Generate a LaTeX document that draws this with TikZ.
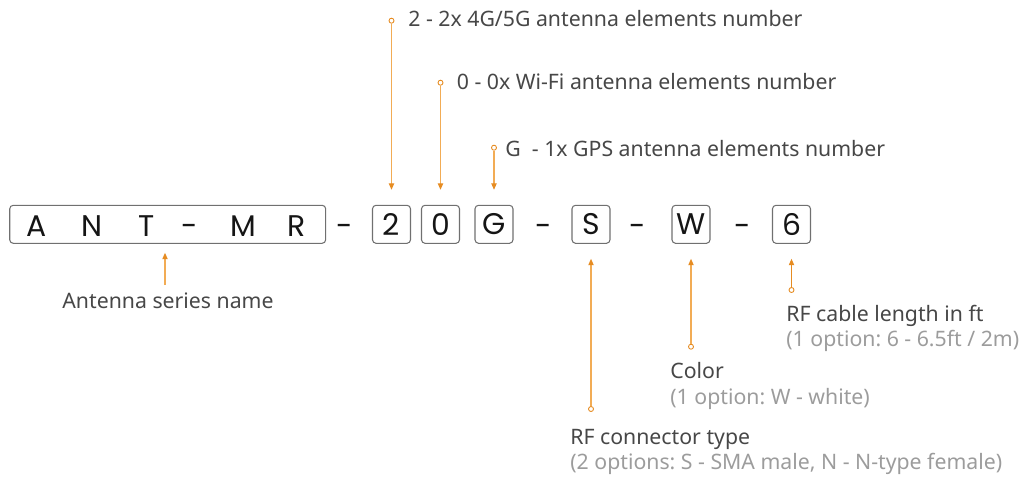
\documentclass[tikz,border=0pt]{standalone}
\usepackage{fontspec}
\setmainfont{Noto Sans}
\newfontfamily\codefont{Poppins}
\usetikzlibrary{arrows.meta}
\usetikzlibrary{positioning}
\frenchspacing
\definecolor{leadline}{HTML}{F2AC55}
\definecolor{leadtip}{HTML}{E68C22}
\definecolor{captext}{HTML}{474747}
\definecolor{optext}{HTML}{9C9C9C}
\definecolor{boxline}{HTML}{707070}
\definecolor{codetext}{HTML}{151515}

\begin{document}
\begin{tikzpicture}[x=0.02cm, y=-0.02cm]
  % Define styles for boxes, leaders and captions
  \tikzset{
    codebox/.style={
      draw=boxline,
      rounded corners=2pt,
      line width=0.6pt,
      minimum width=0.76cm,
      minimum height=0.76cm,
      inner sep=0pt,
      text=codetext,
      font=\codefont\fontsize{17}{20}\selectfont
    },
    codechar/.style={
      inner sep=0pt,
      anchor=base,
      text=codetext,
      font=\codefont\fontsize{17}{20}\selectfont
    },
    leader/.style={
      draw=leadline,
      line width=0.6pt,
      -{Triangle[length=3.6pt, width=3pt, color=leadtip]}
    },
    dot/.style={
      draw=leadtip,
      fill=white,
      circle,
      line width=0.5pt,
      minimum size=0.1cm,
      inner sep=0pt
    },
    caption/.style={
      anchor=base west,
      inner sep=0pt,
      text=captext,
      font=\fontsize{12.1}{14}\selectfont
    },
    option/.style={
      caption,
      text=optext
    }
  }

  \useasboundingbox (0,0) rectangle (1023,480);

  % Series name box with spaced letters
  \node[codebox, minimum width=6.32cm] (series) at (167.7,224.3) {};
  \foreach \ch/\px in {A/37, N/92, T/147, -/190, M/243, R/297} {
    \node[codechar] at (\px,236) {\ch};
  }

  % Code boxes and separating dashes
  \foreach \name/\ch/\px in {b2/2/391.5, b0/0/440.5, bG/G/494, bS/S/591, bW/W/691, b6/6/791.5} {
    \node[codebox] (\name) at (\px,224.3) {\ch};
  }
  \foreach \px in {345, 544, 638, 743} {
    \node[codechar] at (\px,236) {-};
  }

  % Leaders from above
  \node[dot] (d2) at (391.5,20.7) {};
  \node[dot] (d0) at (440.5,82.7) {};
  \node[dot] (dG) at (494,147.7) {};
  \draw[leader, shorten >=0.3cm] (d2) -- (b2.north);
  \draw[leader, shorten >=0.3cm] (d0) -- (b0.north);
  \draw[leader, shorten >=0.3cm] (dG) -- (bG.north);
  \node[caption] (t2) at (408,27) {2 - 2x 4G/5G antenna elements number};
  \node[caption] (t0) at (456.5,89.5) {0 - 0x Wi-Fi antenna elements number};
  \node[caption] (tG) at (505,156.5) {G\ \ - 1x GPS antenna elements number};

  % Leaders from below
  \coordinate (aname) at (165,285);
  \draw[leader, shorten >=0.18cm] (aname) -- (aname |- series.south);
  \node[caption, anchor=base] (tname) at (168,308.3) {Antenna series name};

  \node[dot] (dS) at (591,409) {};
  \node[dot] (dW) at (691,346.7) {};
  \node[dot] (d6) at (791.5,290) {};
  \draw[leader, shorten >=0.3cm] (dS) -- (bS.south);
  \draw[leader, shorten >=0.3cm] (dW) -- (bW.south);
  \draw[leader, shorten >=0.3cm, draw=leadtip] (d6) -- (b6.south);

  \node[caption] (t6) at (786,321) {RF cable length in ft};
  \node[option] (o6) at (786,346) {(1 option: 6 - 6.5ft / 2m)};
  \node[caption] (tW) at (670,378.7) {Color};
  \node[option] (oW) at (670,404.7) {(1 option: W - white)};
  \node[caption] (tS) at (570,444) {RF connector type};
  \node[option] (oS) at (570,469) {(2 options: S - SMA male, N - N-type female)};
\end{tikzpicture}
\end{document}
